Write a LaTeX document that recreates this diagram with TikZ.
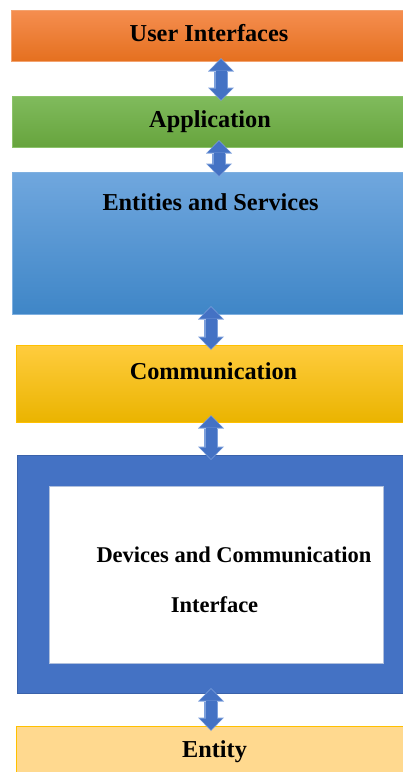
\documentclass[tikz,border=0pt]{standalone}
\usepackage{fontspec}
\setmainfont{Liberation Serif}
\usetikzlibrary{arrows.meta}
\definecolor{uiTop}{HTML}{F58E50}
\definecolor{uiBot}{HTML}{E5701F}
\definecolor{uiLine}{HTML}{F3A36F}
\definecolor{apTop}{HTML}{80BB5D}
\definecolor{apBot}{HTML}{67A43D}
\definecolor{apLine}{HTML}{8CC36A}
\definecolor{enTop}{HTML}{70A7DE}
\definecolor{enBot}{HTML}{3F86C7}
\definecolor{enLine}{HTML}{7FB0E0}
\definecolor{coTop}{HTML}{FFCC3E}
\definecolor{coBot}{HTML}{EAB400}
\definecolor{coLine}{HTML}{FFC000}
\definecolor{devBlue}{HTML}{4472C4}
\definecolor{devLine}{HTML}{3A62AA}
\definecolor{etFill}{HTML}{FFD98F}
\definecolor{etLine}{HTML}{FFC000}
\definecolor{arrBlue}{HTML}{4472C4}
\definecolor{arrLine}{HTML}{7C9FDB}
\tikzset{
  layer/.style={draw, line width=0.8pt, anchor=north west, inner sep=0pt, outer sep=0pt},
  lbl/.style={anchor=base, inner sep=0pt, font=\fontsize{24.3}{29}\selectfont\bfseries, text=black},
  lblsmall/.style={lbl, font=\fontsize{22.5}{27}\selectfont\bfseries},
  bigarrowout/.style={arrLine, line width=13.6pt,
    {Triangle[width=26pt,length=13.5pt,line width=0pt]}-{Triangle[width=26pt,length=13.5pt,line width=0pt]}},
  bigarrow/.style={arrBlue, line width=11pt,
    {Triangle[width=22.5pt,length=11.5pt,line width=0pt]}-{Triangle[width=22.5pt,length=11.5pt,line width=0pt]}}
}
\begin{document}
\begin{tikzpicture}[x=1pt,y=-1pt]
\useasboundingbox (0,0) rectangle (403,772);
% layers
\node[layer, uiLine, top color=uiTop, bottom color=uiBot, minimum width=400pt, minimum height=51pt] (ui) at (11,10) {};
\node[layer, apLine, top color=apTop, bottom color=apBot, minimum width=400pt, minimum height=51pt] (app) at (12,96) {};
\node[layer, enLine, top color=enTop, bottom color=enBot, minimum width=400pt, minimum height=142pt] (ent) at (12,172) {};
\node[layer, coLine, top color=coTop, bottom color=coBot, minimum width=400pt, minimum height=77pt] (comm) at (16,345) {};
\node[layer, devLine, fill=devBlue, minimum width=400pt, minimum height=238pt] (dev) at (17.5,455) {};
\node[layer, draw=devLine!40, line width=1pt, fill=white, minimum width=334pt, minimum height=177pt] (devin) at (49,486) {};
\node[layer, etLine, fill=etFill, minimum width=400pt, minimum height=60pt] (ety) at (16,726) {};
% labels
\node[lbl] (tui) at (209,41) {User Interfaces};
\node[lbl] (tapp) at (210,127) {Application};
\node[lbl] (tent) at (210.5,210) {Entities and Services};
\node[lbl] (tcomm) at (213.5,379) {Communication};
\node[lblsmall] (tdev) at (234,562) {Devices and Communication};
\node[lblsmall] (tdev2) at (214.5,612) {Interface};
\node[lbl] (tety) at (214.5,757) {Entity};
% connector end points
\coordinate (a1s) at (221,58);  \coordinate (a1e) at (221,101);
\coordinate (a2s) at (219,140); \coordinate (a2e) at (219,177);
\coordinate (a3s) at (211,306); \coordinate (a3e) at (211,350);
\coordinate (a4s) at (211,415); \coordinate (a4e) at (211,460);
\coordinate (a5s) at (211,688); \coordinate (a5e) at (211,731);
\foreach \s/\e in {a1s/a1e,a2s/a2e,a3s/a3e,a4s/a4e,a5s/a5e}{
  \draw[bigarrowout] (\s) -- (\e);
  \draw[bigarrow] ([yshift=-1pt]\s) -- ([yshift=1pt]\e);
}
\end{tikzpicture}
\end{document}
